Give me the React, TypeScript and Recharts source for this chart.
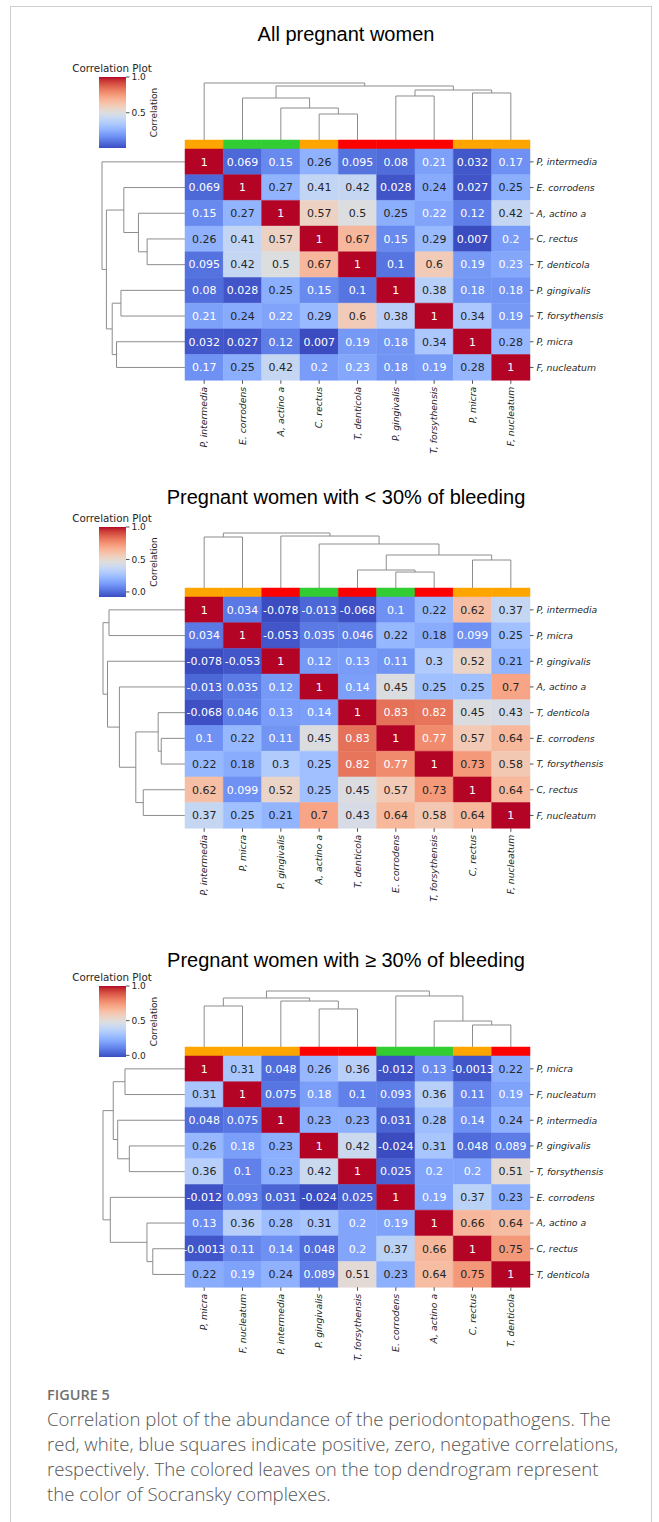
import React from 'react'
import { ComposedChart, Scatter, XAxis, YAxis, ReferenceArea } from 'recharts'

const FONT = '"DejaVu Sans", sans-serif'
const TEXT_DARK = '#262626'
const TREE_COLOR = '#8c8c8c'

const ORANGE = '#ffa500'
const GREEN = '#32cd32'
const RED = '#ff0000'

// ---- All pregnant women ----
const allTitle = 'All pregnant women'
const allLabels = ['P, intermedia', 'E. corrodens', 'A, actino a', 'C, rectus', 'T, denticola', 'P. gingivalis', 'T, forsythensis', 'P, micra', 'F, nucleatum']
const allComplex = [ORANGE, GREEN, GREEN, ORANGE, RED, RED, RED, ORANGE, ORANGE]
const allCorr = [
  [1, 0.069, 0.15, 0.26, 0.095, 0.08, 0.21, 0.032, 0.17],
  [0.069, 1, 0.27, 0.41, 0.42, 0.028, 0.24, 0.027, 0.25],
  [0.15, 0.27, 1, 0.57, 0.5, 0.25, 0.22, 0.12, 0.42],
  [0.26, 0.41, 0.57, 1, 0.67, 0.15, 0.29, 0.007, 0.2],
  [0.095, 0.42, 0.5, 0.67, 1, 0.1, 0.6, 0.19, 0.23],
  [0.08, 0.028, 0.25, 0.15, 0.1, 1, 0.38, 0.18, 0.18],
  [0.21, 0.24, 0.22, 0.29, 0.6, 0.38, 1, 0.34, 0.19],
  [0.032, 0.027, 0.12, 0.007, 0.19, 0.18, 0.34, 1, 0.28],
  [0.17, 0.25, 0.42, 0.2, 0.23, 0.18, 0.19, 0.28, 1],
]
// [child a, child b, height] ; leaves are 0..8 in display order, merges numbered from 9
const allLinkage = [
  [3, 4, 0.456],
  [2, 9, 0.561],
  [1, 10, 0.737],
  [5, 6, 0.772],
  [7, 8, 0.825],
  [12, 13, 0.877],
  [11, 14, 0.947],
  [0, 15, 1.0],
]
const allCbarTicks = [0.5, 1.0]

// ---- < 30% bleeding ----
const lowTitle = 'Pregnant women with < 30% of bleeding'
const lowLabels = ['P, intermedia', 'P, micra', 'P. gingivalis', 'A, actino a', 'T, denticola', 'E. corrodens', 'T, forsythensis', 'C, rectus', 'F, nucleatum']
const lowComplex = [ORANGE, ORANGE, RED, GREEN, RED, GREEN, RED, ORANGE, ORANGE]
const lowCorr = [
  [1, 0.034, -0.078, -0.013, -0.068, 0.1, 0.22, 0.62, 0.37],
  [0.034, 1, -0.053, 0.035, 0.046, 0.22, 0.18, 0.099, 0.25],
  [-0.078, -0.053, 1, 0.12, 0.13, 0.11, 0.3, 0.52, 0.21],
  [-0.013, 0.035, 0.12, 1, 0.14, 0.45, 0.25, 0.25, 0.7],
  [-0.068, 0.046, 0.13, 0.14, 1, 0.83, 0.82, 0.45, 0.43],
  [0.1, 0.22, 0.11, 0.45, 0.83, 1, 0.77, 0.57, 0.64],
  [0.22, 0.18, 0.3, 0.25, 0.82, 0.77, 1, 0.73, 0.58],
  [0.62, 0.099, 0.52, 0.25, 0.45, 0.57, 0.73, 1, 0.64],
  [0.37, 0.25, 0.21, 0.7, 0.43, 0.64, 0.58, 0.64, 1],
]
const lowLinkage = [
  [5, 6, 0.29],
  [4, 9, 0.327],
  [7, 8, 0.509],
  [10, 11, 0.6],
  [3, 12, 0.8],
  [0, 1, 0.927],
  [2, 13, 0.945],
  [14, 15, 1.0],
]
const lowCbarTicks = [0.0, 0.5, 1.0]

// ---- >= 30% bleeding ----
const highTitle = 'Pregnant women with \u2265 30% of bleeding'
const highLabels = ['P, micra', 'F, nucleatum', 'P, intermedia', 'P. gingivalis', 'T, forsythensis', 'E. corrodens', 'A, actino a', 'C, rectus', 'T, denticola']
const highComplex = [ORANGE, ORANGE, ORANGE, RED, RED, GREEN, GREEN, ORANGE, RED]
const highCorr = [
  [1, 0.31, 0.048, 0.26, 0.36, -0.012, 0.13, -0.0013, 0.22],
  [0.31, 1, 0.075, 0.18, 0.1, 0.093, 0.36, 0.11, 0.19],
  [0.048, 0.075, 1, 0.23, 0.23, 0.031, 0.28, 0.14, 0.24],
  [0.26, 0.18, 0.23, 1, 0.42, -0.024, 0.31, 0.048, 0.089],
  [0.36, 0.1, 0.23, 0.42, 1, 0.025, 0.2, 0.2, 0.51],
  [-0.012, 0.093, 0.031, -0.024, 0.025, 1, 0.19, 0.37, 0.23],
  [0.13, 0.36, 0.28, 0.31, 0.2, 0.19, 1, 0.66, 0.64],
  [-0.0013, 0.11, 0.14, 0.048, 0.2, 0.37, 0.66, 1, 0.75],
  [0.22, 0.19, 0.24, 0.089, 0.51, 0.23, 0.64, 0.75, 1],
]
const highLinkage = [
  [7, 8, 0.393],
  [6, 9, 0.464],
  [3, 4, 0.679],
  [0, 1, 0.732],
  [2, 11, 0.821],
  [12, 13, 0.875],
  [5, 10, 0.911],
  [14, 15, 1.0],
]
const highCbarTicks = [0.0, 0.5, 1.0]

const captionHead = 'FIGURE 5'
const captionLines = [
  'Correlation plot of the abundance of the periodontopathogens. The',
  'red, white, blue squares indicate positive, zero, negative correlations,',
  'respectively. The colored leaves on the top dendrogram represent',
  'the color of Socransky complexes.',
]

// matplotlib "coolwarm" (Moreland), 33 samples
const COOLWARM = [
  [59, 76, 192], [68, 90, 204], [77, 104, 215], [87, 117, 225], [98, 130, 234],
  [108, 142, 241], [119, 154, 247], [130, 165, 251], [141, 176, 254], [152, 185, 255],
  [163, 194, 255], [174, 201, 253], [184, 208, 249], [194, 213, 244], [204, 217, 238],
  [213, 219, 230], [221, 221, 221], [229, 216, 209], [236, 211, 197], [241, 204, 185],
  [245, 196, 173], [247, 187, 160], [247, 177, 148], [247, 166, 135], [244, 154, 123],
  [241, 141, 111], [236, 127, 99], [229, 112, 88], [222, 96, 77], [213, 80, 66],
  [203, 62, 56], [192, 40, 47], [180, 4, 38],
]

function coolwarm(t: number): number[] {
  const c = Math.max(0, Math.min(1, t)) * 32
  const i = Math.min(31, Math.floor(c))
  const f = c - i
  return COOLWARM[i].map((v, k) => v + (COOLWARM[i + 1][k] - v) * f)
}

const rgb = (c: number[]) => `rgb(${c.map((v) => Math.round(v)).join(',')})`

function luminance(c: number[]) {
  const lin = (v: number) => {
    const s = v / 255
    return s <= 0.03928 ? s / 12.92 : Math.pow((s + 0.055) / 1.055, 2.4)
  }
  return 0.2126 * lin(c[0]) + 0.7152 * lin(c[1]) + 0.0722 * lin(c[2])
}

// layout
const PAGE_W = 659
const HEAT_LEFT = 185
const HEAT_RIGHT = 530
const COLOR_H = 9
const ROW_H = 25.7
const CB_LEFT = 99
const CB_W = 27

const noDot = () => null

function treeSegments(linkage: number[][], n: number) {
  const pos = Array.from({ length: n }, (_, i) => i + 0.5)
  const hgt = Array.from({ length: n }, () => 0)
  const segs: { p: number; h: number }[][] = []
  for (const [a, b, h] of linkage) {
    segs.push([
      { p: pos[a], h: hgt[a] },
      { p: pos[a], h },
      { p: pos[b], h },
      { p: pos[b], h: hgt[b] },
    ])
    pos.push((pos[a] + pos[b]) / 2)
    hgt.push(h)
  }
  return segs
}

function ColTick(props: any) {
  const { x, y, payload, labels } = props
  return (
    <text
      x={x}
      y={y}
      transform={`rotate(-90 ${x} ${y})`}
      textAnchor="end"
      dy="0.35em"
      fontSize={9.3}
      fontStyle="italic"
      fontFamily={FONT}
      fill={TEXT_DARK}
    >
      {labels[Math.floor(payload.value)]}
    </text>
  )
}

function RowTick(props: any) {
  const { x, y, payload, labels } = props
  return (
    <text x={x} y={y} textAnchor="start" dy="0.35em" fontSize={9.3} fontStyle="italic" fontFamily={FONT} fill={TEXT_DARK}>
      {labels[Math.floor(payload.value)]}
    </text>
  )
}

function CorrLabel(props: any) {
  const vb = props.viewBox
  if (!vb) return null
  const x = vb.x + 28
  const y = vb.y + vb.height / 2
  return (
    <text x={x} y={y} transform={`rotate(-90 ${x} ${y})`} textAnchor="middle" dy="0.35em" fontSize={9} fontFamily={FONT} fill={TEXT_DARK}>
      Correlation
    </text>
  )
}

interface PanelLayout {
  titleY: number
  cbTitleY: number
  cbTop: number
  cbBottom: number
  treeTop: number
  colorTop: number
  rootX: number
}

interface PanelProps {
  id: string
  title: string
  labels: string[]
  complex: string[]
  corr: number[][]
  linkage: number[][]
  cbarTicks: number[]
  layout: PanelLayout
}

function Panel({ id, title, labels, complex, corr, linkage, cbarTicks, layout }: PanelProps) {
  const n = labels.length
  const flat = corr.flat()
  const vmin = Math.min(...flat)
  const vmax = Math.max(...flat)
  const ticks = labels.map((_, i) => i + 0.5)
  const yTop = -COLOR_H / ROW_H
  const plotH = COLOR_H + n * ROW_H
  const heatTop = layout.colorTop + COLOR_H

  const cells = corr.flatMap((row, r) =>
    row.map((v, c) => {
      const col = coolwarm((v - vmin) / (vmax - vmin))
      return { x: c + 0.5, y: r + 0.5, r, c, v, fill: rgb(col), text: luminance(col) > 0.408 ? TEXT_DARK : '#ffffff' }
    }),
  )
  const segs = treeSegments(linkage, n)
  const gradId = `cbar-${id}`

  const Annot = (p: any) => {
    const d = p.payload
    if (p.cx == null || !d) return null
    return (
      <text x={p.cx} y={p.cy} dy="0.35em" textAnchor="middle" fontSize={11} fontFamily={FONT} fill={d.text}>
        {String(d.v)}
      </text>
    )
  }

  return (
    <>
      <div
        style={{
          position: 'absolute',
          left: 346 - 300,
          width: 600,
          top: layout.titleY - 12,
          lineHeight: '24px',
          textAlign: 'center',
          fontSize: 20,
          fontFamily: '"Liberation Sans", Arial, sans-serif',
          color: '#000',
        }}
      >
        {title}
      </div>
      <div
        style={{
          position: 'absolute',
          left: 112 - 60,
          width: 120,
          top: layout.cbTitleY - 7,
          lineHeight: '14px',
          textAlign: 'center',
          fontSize: 10.3,
          fontFamily: FONT,
          color: TEXT_DARK,
        }}
      >
        Correlation Plot
      </div>

      {/* colour bar */}
      <div style={{ position: 'absolute', left: CB_LEFT, top: layout.cbTop - 6 }}>
        <ComposedChart
          width={CB_W + 40}
          height={layout.cbBottom - layout.cbTop + 12}
          margin={{ top: 6, right: 0, bottom: 6, left: 0 }}
        >
          <defs>
            <linearGradient id={gradId} x1="0" y1="0" x2="0" y2="1">
              {COOLWARM.map((_, k) => (
                <stop key={k} offset={k / 32} stopColor={rgb(COOLWARM[32 - k])} />
              ))}
            </linearGradient>
          </defs>
          <XAxis type="number" dataKey="x" domain={[0, 1]} hide />
          <YAxis
            type="number"
            dataKey="y"
            domain={[vmin, vmax]}
            orientation="right"
            width={40}
            ticks={cbarTicks}
            tickFormatter={(v: number) => v.toFixed(1)}
            tickSize={3.5}
            tickMargin={2}
            axisLine={false}
            tickLine={{ stroke: TEXT_DARK, strokeWidth: 0.8 }}
            tick={{ fontSize: 9, fill: TEXT_DARK, fontFamily: FONT }}
            label={{ content: CorrLabel }}
          />
          <ReferenceArea x1={0} x2={1} y1={vmin} y2={vmax} fill={`url(#${gradId})`} fillOpacity={1} ifOverflow="visible" />
          <Scatter data={[{ x: 0.5, y: vmin }]} shape={noDot} isAnimationActive={false} />
        </ComposedChart>
      </div>

      {/* top dendrogram */}
      <div style={{ position: 'absolute', left: HEAT_LEFT - 2, top: layout.treeTop - 2 }}>
        <ComposedChart
          width={HEAT_RIGHT - HEAT_LEFT + 4}
          height={layout.colorTop - layout.treeTop + 4}
          margin={{ top: 2, right: 2, bottom: 2, left: 2 }}
        >
          <XAxis type="number" dataKey="p" domain={[0, n]} hide />
          <YAxis type="number" dataKey="h" domain={[0, 1]} hide />
          {segs.map((s, i) => (
            <Scatter
              key={i}
              data={s}
              fill={TREE_COLOR}
              line={{ stroke: TREE_COLOR, strokeWidth: 1 }}
              lineType="joint"
              shape={noDot}
              isAnimationActive={false}
            />
          ))}
        </ComposedChart>
      </div>

      {/* left dendrogram */}
      <div style={{ position: 'absolute', left: layout.rootX - 2, top: heatTop - 2 }}>
        <ComposedChart
          width={HEAT_LEFT - layout.rootX + 4}
          height={n * ROW_H + 4}
          margin={{ top: 2, right: 2, bottom: 2, left: 2 }}
        >
          <XAxis type="number" dataKey="h" domain={[0, 1]} reversed hide />
          <YAxis type="number" dataKey="p" domain={[0, n]} reversed hide />
          {segs.map((s, i) => (
            <Scatter
              key={i}
              data={s}
              fill={TREE_COLOR}
              line={{ stroke: TREE_COLOR, strokeWidth: 1 }}
              lineType="joint"
              shape={noDot}
              isAnimationActive={false}
            />
          ))}
        </ComposedChart>
      </div>

      {/* heatmap with complex colour row */}
      <div style={{ position: 'absolute', left: 0, top: layout.colorTop - 5 }}>
        <ComposedChart
          width={PAGE_W}
          height={5 + plotH + 110}
          margin={{ top: 5, right: PAGE_W - HEAT_RIGHT - 100, bottom: 0, left: HEAT_LEFT }}
        >
          <XAxis
            type="number"
            dataKey="x"
            domain={[0, n]}
            ticks={ticks}
            height={110}
            axisLine={false}
            tickSize={3.5}
            tickMargin={3}
            tickLine={{ stroke: TEXT_DARK, strokeWidth: 0.8 }}
            tick={<ColTick labels={labels} />}
            interval={0}
          />
          <YAxis
            type="number"
            dataKey="y"
            domain={[yTop, n]}
            reversed
            orientation="right"
            width={100}
            ticks={ticks}
            axisLine={false}
            tickSize={3.5}
            tickMargin={3}
            tickLine={{ stroke: TEXT_DARK, strokeWidth: 0.8 }}
            tick={<RowTick labels={labels} />}
            interval={0}
          />
          {complex.map((col, i) => (
            <ReferenceArea
              key={`c${i}`}
              x1={i}
              x2={i + 1}
              y1={yTop}
              y2={0}
              fill={col}
              fillOpacity={1}
              stroke={col}
              strokeWidth={0.5}
              ifOverflow="visible"
            />
          ))}
          {cells.map((d) => (
            <ReferenceArea
              key={`${d.r}-${d.c}`}
              x1={d.c}
              x2={d.c + 1}
              y1={d.r}
              y2={d.r + 1}
              fill={d.fill}
              fillOpacity={1}
              stroke={d.fill}
              strokeWidth={0.5}
              ifOverflow="visible"
            />
          ))}
          <Scatter data={cells} shape={Annot} isAnimationActive={false} />
        </ComposedChart>
      </div>
    </>
  )
}

export default function App() {
  return (
    <div
      style={{
        position: 'absolute',
        left: 0,
        top: 0,
        width: PAGE_W,
        height: 1522,
        overflow: 'hidden',
        background: '#fff',
      }}
    >
      <div
        style={{
          position: 'absolute',
          left: 10,
          top: 6,
          width: 640,
          height: 1600,
          border: '1.5px solid #cfcfcf',
        }}
      />
      <Panel
        id="all"
        title={allTitle}
        labels={allLabels}
        complex={allComplex}
        corr={allCorr}
        linkage={allLinkage}
        cbarTicks={allCbarTicks}
        layout={{ titleY: 34, cbTitleY: 68, cbTop: 77, cbBottom: 148, treeTop: 83, colorTop: 140, rootX: 102 }}
      />
      <Panel
        id="low"
        title={lowTitle}
        labels={lowLabels}
        complex={lowComplex}
        corr={lowCorr}
        linkage={lowLinkage}
        cbarTicks={lowCbarTicks}
        layout={{ titleY: 497, cbTitleY: 518, cbTop: 527, cbBottom: 597, treeTop: 533, colorTop: 588, rootX: 103 }}
      />
      <Panel
        id="high"
        title={highTitle}
        labels={highLabels}
        complex={highComplex}
        corr={highCorr}
        linkage={highLinkage}
        cbarTicks={highCbarTicks}
        layout={{ titleY: 960, cbTitleY: 977, cbTop: 986, cbBottom: 1057, treeTop: 991, colorTop: 1047, rootX: 103 }}
      />

      <div
        style={{
          position: 'absolute',
          left: 47,
          top: 1385,
          lineHeight: '20px',
          fontSize: 14.5,
          fontWeight: 600,
          fontFamily: '"Open Sans", sans-serif',
          color: '#707070',
        }}
      >
        {captionHead}
      </div>
      <div
        style={{
          position: 'absolute',
          left: 47,
          top: 1406,
          width: 610,
          lineHeight: '25px',
          fontSize: 18.6,
          fontWeight: 300,
          fontFamily: '"Open Sans", sans-serif',
          color: '#555',
          whiteSpace: 'nowrap',
        }}
      >
        {captionLines.map((l, i) => (
          <div key={i}>{l}</div>
        ))}
      </div>
    </div>
  )
}
